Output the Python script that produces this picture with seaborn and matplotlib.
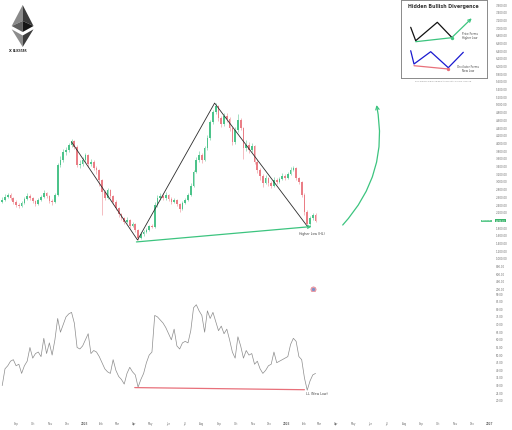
import matplotlib
matplotlib.use("Agg")
import matplotlib.pyplot as plt
import matplotlib.dates as mdates
from matplotlib.patches import Polygon
import numpy as np
import pandas as pd
import seaborn as sns

# ---- data (5-day candles, ETH/USD) ----
candle_start = "2024-08-06"
closes = [2530, 2608, 2660, 2582, 2478, 2400, 2374, 2452, 2556, 2634,
          2582, 2504, 2426, 2530, 2608, 2712, 2634, 2504, 2478, 2660,
          3440, 3570, 3778, 3830, 3960, 4064, 3908, 3440, 3466, 3570,
          3700, 3466, 3518, 3362, 3310, 3050, 2738, 2582, 2790, 2634,
          2478, 2322, 2166, 2062, 1958, 2010, 1854, 1906, 1750, 1542,
          1646, 1698, 1750, 1854, 1828, 2400, 2582, 2634, 2582, 2660,
          2556, 2478, 2530, 2426, 2296, 2452, 2530, 2660, 2894, 3258,
          3570, 3700, 3570, 3882, 4142, 4558, 4818, 4974, 4662, 4506,
          4714, 4636, 4402, 4038, 4350, 4610, 4402, 3882, 3960, 3830,
          3934, 3518, 3310, 3154, 2972, 3102, 2972, 2894, 3050, 2998,
          3076, 3154, 3102, 3206, 3310, 3362, 3102, 2998, 2660, 2218,
          1906, 2062, 2140, 1990]
highs = [2600, 2680, 2720, 2700, 2610, 2520, 2450, 2500, 2600, 2700,
         2680, 2620, 2540, 2570, 2660, 2780, 2740, 2660, 2560, 2720,
         3480, 3680, 3850, 3920, 4020, 4110, 4100, 3950, 3560, 3640,
         3760, 3720, 3600, 3560, 3420, 3340, 3080, 2800, 2850, 2820,
         2660, 2520, 2360, 2200, 2100, 2080, 2040, 1960, 1930, 1780,
         1690, 1740, 1800, 1880, 1900, 2480, 2660, 2700, 2720, 2740,
         2690, 2600, 2580, 2560, 2460, 2500, 2580, 2720, 2960, 3320,
         3640, 3800, 3760, 3940, 4220, 4620, 4880, 5050, 5000, 4720,
         4780, 4800, 4680, 4440, 4420, 4760, 4650, 4440, 4100, 4050,
         4000, 3960, 3560, 3360, 3200, 3180, 3140, 3020, 3120, 3100,
         3140, 3220, 3200, 3260, 3380, 3420, 3380, 3140, 3020, 2700,
         2260, 2120, 2200, 2180]
lows = [2440, 2500, 2580, 2540, 2420, 2350, 2310, 2340, 2420, 2530,
        2540, 2460, 2380, 2400, 2500, 2580, 2590, 2460, 2400, 2450,
        2640, 3380, 3520, 3700, 3780, 3900, 3850, 3380, 3360, 3420,
        3520, 3400, 3420, 3300, 3200, 2900, 2150, 2520, 2560, 2580,
        2420, 2280, 2100, 2000, 1900, 1920, 1800, 1820, 1700, 1480,
        1520, 1600, 1660, 1720, 1790, 1810, 2360, 2540, 2540, 2540,
        2500, 2420, 2440, 2380, 2220, 2260, 2420, 2500, 2640, 2870,
        3220, 3520, 3500, 3540, 3840, 4100, 4500, 4760, 4580, 4420,
        4460, 4560, 4320, 3950, 3990, 4300, 4340, 3600, 3800, 3760,
        3780, 3460, 3240, 3060, 2880, 2940, 2900, 2840, 2860, 2940,
        2960, 3040, 3060, 3080, 3180, 3280, 3050, 2940, 2600, 2150,
        1820, 1860, 2000, 1950]
rsi = [30, 41, 43, 46, 47, 43, 44, 38, 43, 46,
       55, 48, 51, 52, 49, 61, 51, 58, 50, 60,
       74, 65, 70, 75, 77, 78, 71, 55, 54, 56,
       60, 64, 51, 53, 52, 49, 45, 41, 39, 38,
       47, 40, 36, 34, 31, 38, 42, 39, 37, 29,
       34, 38, 45, 50, 52, 76, 75, 73, 71, 68,
       64, 60, 67, 56, 54, 58, 59, 58, 66, 81,
       83, 79, 76, 65, 79, 74, 78, 72, 66, 69,
       64, 67, 60, 52, 48, 62, 56, 48, 53, 50,
       51, 44, 46, 41, 38, 40, 43, 44, 52, 45,
       46, 47, 48, 49, 57, 61, 59, 49, 47, 35,
       27, 33, 37, 38]

swing_dates = ["2024-12-09", "2025-04-07", "2025-08-24", "2026-02-08"]
swing_prices = [4040, 1490, 5050, 1830]
hl_dates = ["2025-04-05", "2026-02-15"]
hl_prices = [1440, 1840]
ll_dates = ["2025-04-02", "2026-02-02"]
ll_rsi = [28.7, 27.3]
curve_dates = ["2026-04-12", "2026-06-12"]
curve_prices = [1880, 5000]

price_ticks = list(range(200, 7601, 200))
rsi_ticks = list(range(20, 91, 5))

# inset sketch (pixel units of the little box)
sk_price_x = [410.7, 415.7, 437.3, 451.7]
sk_price_y = [27.3, 40.7, 22.3, 37.3]
sk_osc_x = [410.7, 414, 430.7, 448.3, 463.3]
sk_osc_y = [50.7, 64, 51.7, 67.7, 52.3]

GREEN = "#3cc47f"
RED = "#e8707a"
UP = "#4cc38a"
DOWN = "#ea7e86"
TXT = "#6e6e6e"

sns.set_theme(style="white")
plt.rcParams['font.family'] = ['DejaVu Sans']

W, H = 512, 430
fig = plt.figure(figsize=(W / 100, H / 100), dpi=100)
fig.patch.set_facecolor("white")

def px_axes(x0, y0, x1, y1):
    return fig.add_axes([x0 / W, 1 - y1 / H, (x1 - x0) / W, (y1 - y0) / H])

ax = px_axes(0, 0, 493, 291)
ax_r = px_axes(0, 291, 493, 412)

d = lambda s: mdates.date2num(pd.Timestamp(s))
dates = pd.date_range(candle_start, periods=len(closes), freq="5D")
xs = mdates.date2num(dates)
opens = [2480] + closes[:-1]

# ---- candles ----
cols = [UP if c >= o else DOWN for o, c in zip(opens, closes)]
ax.vlines(xs, lows, highs, colors=cols, lw=0.45, alpha=0.8)
bottoms = np.minimum(opens, closes)
heights = np.maximum(np.abs(np.array(closes) - np.array(opens)), 15)
ax.bar(xs, heights, bottom=bottoms, width=3.0, color=cols, linewidth=0)

# zigzag
sns.lineplot(x=[d(s) for s in swing_dates], y=swing_prices, ax=ax,
             color="#2b2b2b", lw=0.6, sort=False)
# higher low line
ax.annotate("", xy=(d(hl_dates[1]), hl_prices[1]),
            xytext=(d(hl_dates[0]), hl_prices[0]),
            arrowprops=dict(arrowstyle="->", color=GREEN, lw=0.9,
                            mutation_scale=5, shrinkA=0, shrinkB=0))
ax.text(d("2026-02-15"), 1646, "Higher Low (HL)", fontsize=2.3,
        color="#444", ha="center", va="center")
# curved projection arrow
ax.annotate("", xy=(d(curve_dates[1]), curve_prices[1]),
            xytext=(d(curve_dates[0]), curve_prices[0]),
            arrowprops=dict(arrowstyle="->", color=GREEN, lw=0.9,
                            mutation_scale=6, shrinkA=0, shrinkB=0,
                            connectionstyle="arc3,rad=0.25"))
# small event icon
ax.scatter([d("2026-02-18")], [216], s=14, color="#f4b3ba",
           edgecolor="#e0707e", linewidth=0.4, zorder=5)
ax.scatter([d("2026-02-18")], [216], s=2, color="#8090c8", zorder=6)

# last price tags
last = closes[-1]
bt = ax.get_yaxis_transform()
ax.text(0.997, last, "ETHUSD", transform=bt, fontsize=1.6, color="white",
        ha="right", va="center",
        bbox=dict(boxstyle="square,pad=0.3", fc="#5cc98c", ec="none"))
ax.text(1.006, last, f"{last:,.2f}\n05:12:30", transform=bt, fontsize=1.6,
        color="white", ha="left", va="center", linespacing=1.0,
        bbox=dict(boxstyle="square,pad=0.25", fc="#3bb56c", ec="none"),
        clip_on=False, zorder=10)

# ---- RSI pane ----
sns.lineplot(x=xs, y=rsi, ax=ax_r, color="#8c8c8c", lw=0.5)
sns.lineplot(x=[d(s) for s in ll_dates], y=ll_rsi, ax=ax_r,
             color=RED, lw=0.9)
ax_r.text(d("2026-02-24"), 24.7, "LL (New Low)", fontsize=2.3,
          color="#444", ha="center", va="center")

# ---- axes styling ----
x0, x1 = d("2024-08-02"), d("2027-01-08")
for a in (ax, ax_r):
    a.set_xlim(x0, x1)
    for sp in a.spines.values():
        sp.set_visible(False)
    a.yaxis.tick_right()
    a.tick_params(axis="y", length=0, pad=2, labelsize=2.0, labelcolor=TXT)
    a.set_facecolor("none")
    a.grid(False)
    a.set_xlabel("")
    a.set_ylabel("")

ax.set_ylim(164, 7730)
ax.set_yticks(price_ticks)
# the 2,000 label sits under the last-price tag
ax.set_yticklabels(["" if abs(v - last) < 100 else f"{v:,.2f}"
                    for v in price_ticks])
ax.set_xticks([])

ax_r.set_ylim(12.7, 92)
ax_r.set_yticks(rsi_ticks)
ax_r.set_yticklabels([f"{v:.2f}" for v in rsi_ticks])

months = pd.date_range("2024-09-01", "2027-01-01", freq="MS")
ax_r.set_xticks(mdates.date2num(months))
ax_r.set_xticklabels([str(m.year) if m.month == 1 else m.strftime("%b")
                      for m in months])
ax_r.tick_params(axis="x", length=0, pad=7, labelsize=1.9, labelcolor=TXT)
for lab, m in zip(ax_r.get_xticklabels(), months):
    if m.month == 1:
        lab.set_fontweight("bold")

# ---- inset explanation box ----
ins = px_axes(401, 0, 487, 78)
ins.set_xlim(401, 487)
ins.set_ylim(78, 0)
ins.set_xticks([])
ins.set_yticks([])
ins.set_facecolor("white")
for sp in ins.spines.values():
    sp.set_visible(True)
    sp.set_color("#8a8a8a")
    sp.set_linewidth(0.7)
ins.text(443, 6.5, "Hidden Bullish Divergence", fontsize=3.4,
         fontweight="semibold", color="#333", ha="center", va="center")
ins.plot(sk_price_x, sk_price_y, color="#111", lw=0.9)
ins.plot([415.7, 451.7], [41.7, 37.7], color=GREEN, lw=0.9)
ins.annotate("", xy=(471.7, 18.3), xytext=(451.7, 37.7),
             arrowprops=dict(arrowstyle="->", color=GREEN, lw=0.9,
                             mutation_scale=5, shrinkA=0, shrinkB=0))
ins.scatter([451.7], [37.7], s=2, color=GREEN, zorder=4)
ins.text(470, 36, "Price Forms\nHigher Low", fontsize=2.0, color="#444",
         ha="center", va="center", linespacing=1.0)
ins.plot(sk_osc_x, sk_osc_y, color="#1a1ad0", lw=0.9)
ins.plot([414, 448.3], [65.7, 69], color=RED, lw=0.9)
ins.scatter([448.3], [69], s=2, color=RED, zorder=4)
ins.text(468, 69, "Oscillator Forms\nNew Low", fontsize=2.0, color="#444",
         ha="center", va="center", linespacing=1.0)
fig.text(443 / W, 1 - 81 / H,
         "Price makes a higher low while the oscillator makes a lower low",
         fontsize=1.3, color="#888", ha="center", va="center")

# ---- ETH logo ----
lg = px_axes(0, 0, 60, 60)
lg.set_xlim(0, 60)
lg.set_ylim(60, 0)
lg.axis("off")
faces = [
    ([(22.7, 5), (11.7, 26), (22.7, 21)], "#8a8a8a"),
    ([(22.7, 5), (33.5, 26), (22.7, 21)], "#3a3a3a"),
    ([(11.7, 26), (22.7, 21), (22.7, 32)], "#5e5e5e"),
    ([(33.5, 26), (22.7, 21), (22.7, 32)], "#161616"),
    ([(11.7, 29.3), (22.7, 35.5), (22.7, 47)], "#8c8c8c"),
    ([(33.5, 29.3), (22.7, 35.5), (22.7, 47)], "#3c3c3c"),
]
for pts, c in faces:
    lg.add_patch(Polygon(pts, closed=True, fc=c, ec="none"))
lg.text(9, 51, "X", fontsize=2.6, fontweight="bold", color="#222",
        va="center")
lg.text(13, 51, "ELIXSTAR", fontsize=2.0, fontweight="bold", color="#333",
        va="center")

fig.savefig("out.png", dpi=100, facecolor="white")
